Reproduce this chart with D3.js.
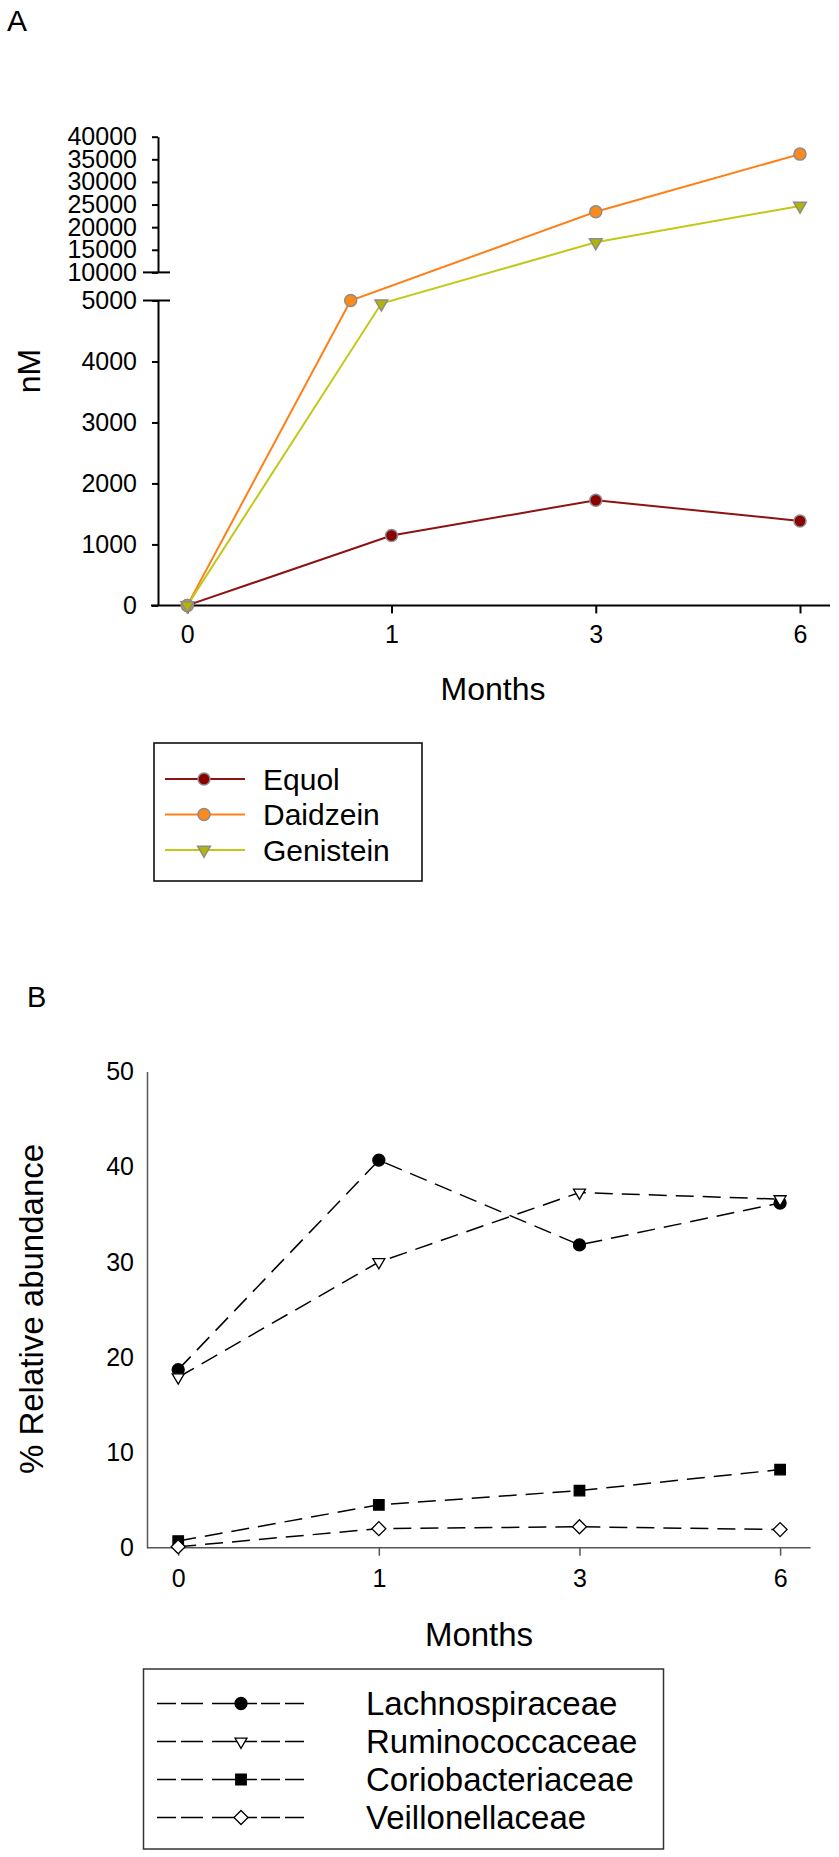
<!DOCTYPE html>
<html>
<head>
<meta charset="utf-8">
<script src="https://cdn.jsdelivr.net/npm/d3@7"></script>
<style>
    body { margin: 0; background: #fff; }
    svg text { font-family: "Liberation Sans", Arial, sans-serif; fill: #000; }
</style>
</head>
<body>
<div id="chart"></div>
<script>
// Shared categories
const monthLabels = ["0", "1", "3", "6"];

// Panel A: isoflavones (nM), x given as month index (0..3)
const equolX = [0, 1, 2, 3];
const equolValues = [0, 1145, 1725, 1385];
const daidzeinX = [0, 0.8, 2, 3];
const daidzeinValues = [0, 5000, 23400, 36150];
const genisteinX = [0, 0.95, 2, 3];
const genisteinValues = [0, 4950, 16650, 24700];
const lowerTicksA = [0, 1000, 2000, 3000, 4000, 5000];
const upperTicksA = [10000, 15000, 20000, 25000, 30000, 35000, 40000];

// Panel B: % relative abundance
const lachnoValues = [18.7, 40.7, 31.8, 36.2];
const ruminoValues = [17.9, 30.0, 37.3, 36.6];
const corioValues = [0.7, 4.5, 6.0, 8.2];
const veilloValues = [0.1, 2.0, 2.2, 1.9];
const ticksB = [0, 10, 20, 30, 40, 50];

const width = 839, height = 1857;

const svg = d3.select("#chart")
    .append("svg")
    .attr("width", width)
    .attr("height", height);

/**
 * Draws panel A with the broken y axis.
 */
function drawPanelA() {
    const g = svg.append("g");
    const axisX = 158;

    const x = d3.scaleLinear().domain([0, 3]).range([187.3, 800]);
    const yLow = d3.scaleLinear().domain([0, 5000]).range([605.4, 300.5]);
    const yHigh = d3.scaleLinear().domain([10000, 40000]).range([272.4, 136.7]);
    const y = v => v <= 5000 ? yLow(v) : yHigh(v);

    g.append("text").attr("x", 7).attr("y", 31).attr("font-size", 30).text("A");

    // y axis, two pieces
    [[yLow, lowerTicksA], [yHigh, upperTicksA]].forEach(([sc, ticks]) => {
        const ax = g.append("g")
            .attr("transform", `translate(${axisX},0)`)
            .call(d3.axisLeft(sc).tickValues(ticks).tickSize(6).tickSizeOuter(0).tickPadding(15).tickFormat(d3.format("d")));
        ax.select(".domain").attr("stroke", "#000").attr("stroke-width", 2);
        ax.selectAll(".tick line").attr("stroke", "#000").attr("stroke-width", 2);
        ax.selectAll(".tick text").attr("font-size", 25).attr("font-family", "Liberation Sans, Arial, sans-serif").attr("fill", "#000");
    });

    // break marks
    [yHigh(10000), yLow(5000)].forEach(yy => {
        g.append("line").attr("x1", 143).attr("x2", 170).attr("y1", yy).attr("y2", yy)
            .attr("stroke", "#000").attr("stroke-width", 2);
    });

    // x axis
    g.append("line").attr("x1", 151).attr("x2", 830).attr("y1", 605.4).attr("y2", 605.4)
        .attr("stroke", "#000").attr("stroke-width", 2);
    const xa = g.append("g")
        .attr("transform", "translate(0,605.4)")
        .call(d3.axisBottom(x).tickValues([0, 1, 2, 3]).tickFormat(i => monthLabels[i]).tickSize(8).tickSizeOuter(0).tickPadding(12));
    xa.select(".domain").remove();
    xa.selectAll(".tick line").attr("stroke", "#000").attr("stroke-width", 2);
    xa.selectAll(".tick text").attr("font-size", 25).attr("font-family", "Liberation Sans, Arial, sans-serif").attr("fill", "#000");

    g.append("text").attr("x", 493).attr("y", 700).attr("text-anchor", "middle").attr("font-size", 32).text("Months");
    g.append("text").attr("transform", "translate(40,371) rotate(-90)").attr("text-anchor", "middle")
        .attr("font-size", 32).text("nM");

    const series = [
        { name: "Equol", xs: equolX, vals: equolValues, line: "#8e1212", fill: "#8b0000", shape: d3.symbolCircle, size: 113, rot: 0 },
        { name: "Daidzein", xs: daidzeinX, vals: daidzeinValues, line: "#ff7f17", fill: "#ff8a1c", shape: d3.symbolCircle, size: 113, rot: 0 },
        { name: "Genistein", xs: genisteinX, vals: genisteinValues, line: "#c2c817", fill: "#b3b600", shape: d3.symbolTriangle, size: 70, rot: 180 }
    ];

    const line = d3.line().x(d => x(d[0])).y(d => y(d[1]));

    series.forEach(s => {
        const pts = s.xs.map((xv, i) => [xv, s.vals[i]]);
        g.append("path").attr("d", line(pts)).attr("fill", "none").attr("stroke", s.line).attr("stroke-width", 2);
    });
    series.forEach(s => {
        const pts = s.xs.map((xv, i) => [xv, s.vals[i]]);
        g.selectAll(null).data(pts).enter().append("path")
            .attr("d", d3.symbol().type(s.shape).size(s.size))
            .attr("transform", d => `translate(${x(d[0])},${y(d[1])}) rotate(${s.rot})`)
            .attr("fill", s.fill).attr("stroke", "#8c8c8c").attr("stroke-width", 1.5);
    });

    // legend
    const lg = g.append("g");
    lg.append("rect").attr("x", 154).attr("y", 743).attr("width", 268).attr("height", 138)
        .attr("fill", "none").attr("stroke", "#000").attr("stroke-width", 1.5);
    series.forEach((s, i) => {
        const yy = 779 + i * 35.5;
        lg.append("line").attr("x1", 165).attr("x2", 245).attr("y1", yy).attr("y2", yy)
            .attr("stroke", s.line).attr("stroke-width", 2);
        lg.append("path").attr("d", d3.symbol().type(s.shape).size(s.size))
            .attr("transform", `translate(204,${yy}) rotate(${s.rot})`)
            .attr("fill", s.fill).attr("stroke", "#8c8c8c").attr("stroke-width", 1.5);
        lg.append("text").attr("x", 263).attr("y", yy).attr("dy", "0.35em").attr("font-size", 30).text(s.name);
    });
}

/**
 * Draws panel B (dashed lines, black markers).
 */
function drawPanelB() {
    const g = svg.append("g");
    const x = d3.scaleLinear().domain([0, 3]).range([178.2, 780.1]);
    const y = d3.scaleLinear().domain([0, 50]).range([1547.7, 1071.6]);

    g.append("text").attr("x", 27).attr("y", 1007).attr("font-size", 29).text("B");

    const ya = g.append("g")
        .attr("transform", "translate(147,0)")
        .call(d3.axisLeft(y).tickValues(ticksB).tickSize(0).tickSizeOuter(0).tickPadding(13));
    ya.select(".domain").attr("stroke", "#555").attr("stroke-width", 1.5);
    ya.selectAll(".tick text").attr("font-size", 25).attr("font-family", "Liberation Sans, Arial, sans-serif").attr("fill", "#000");

    g.append("line").attr("x1", 147).attr("x2", 810.6).attr("y1", 1547.7).attr("y2", 1547.7)
        .attr("stroke", "#555").attr("stroke-width", 1.5);
    const xa = g.append("g")
        .attr("transform", "translate(0,1547.7)")
        .call(d3.axisBottom(x).tickValues([0, 1, 2, 3]).tickFormat(i => monthLabels[i]).tickSize(8).tickSizeOuter(0).tickPadding(14));
    xa.select(".domain").remove();
    xa.selectAll(".tick line").attr("stroke", "#555").attr("stroke-width", 1.5);
    xa.selectAll(".tick text").attr("font-size", 25).attr("font-family", "Liberation Sans, Arial, sans-serif").attr("fill", "#000");

    g.append("text").attr("x", 479).attr("y", 1646).attr("text-anchor", "middle").attr("font-size", 33).text("Months");
    g.append("text").attr("transform", "translate(43,1309) rotate(-90)").attr("text-anchor", "middle")
        .attr("font-size", 33).text("% Relative abundance");

    const series = [
        { name: "Lachnospiraceae", vals: lachnoValues, shape: d3.symbolCircle, size: 113, rot: 0, fill: "#000" },
        { name: "Ruminococcaceae", vals: ruminoValues, shape: d3.symbolTriangle, size: 62, rot: 180, fill: "#fff" },
        { name: "Coriobacteriaceae", vals: corioValues, shape: d3.symbolSquare, size: 110, rot: 0, fill: "#000" },
        { name: "Veillonellaceae", vals: veilloValues, shape: d3.symbolSquare, size: 98, rot: 45, fill: "#fff" }
    ];

    const line = d3.line().x((d, i) => x(i)).y(d => y(d));

    series.forEach(s => {
        g.append("path").attr("d", line(s.vals)).attr("fill", "none").attr("stroke", "#000")
            .attr("stroke-width", 1.5).attr("stroke-dasharray", "18,9");
    });
    series.forEach(s => {
        g.selectAll(null).data(s.vals).enter().append("path")
            .attr("d", d3.symbol().type(s.shape).size(s.size))
            .attr("transform", (d, i) => `translate(${x(i)},${y(d)}) rotate(${s.rot})`)
            .attr("fill", s.fill).attr("stroke", "#000").attr("stroke-width", 1.3);
    });

    // legend
    const lg = g.append("g");
    lg.append("rect").attr("x", 143.5).attr("y", 1669).attr("width", 520).attr("height", 180)
        .attr("fill", "none").attr("stroke", "#333").attr("stroke-width", 1.5);
    series.forEach((s, i) => {
        const yy = 1703.5 + i * 38;
        lg.append("line").attr("x1", 157).attr("x2", 309).attr("y1", yy).attr("y2", yy)
            .attr("stroke", "#000").attr("stroke-width", 1.3).attr("stroke-dasharray", "19,5,22,9,45,4,19,5,19");
        lg.append("path").attr("d", d3.symbol().type(s.shape).size(s.size))
            .attr("transform", `translate(241,${yy}) rotate(${s.rot})`)
            .attr("fill", s.fill).attr("stroke", "#000").attr("stroke-width", 1.3);
        lg.append("text").attr("x", 366).attr("y", yy).attr("dy", "0.35em").attr("font-size", 33).text(s.name);
    });
}

drawPanelA();
drawPanelB();
</script>
</body>
</html>
